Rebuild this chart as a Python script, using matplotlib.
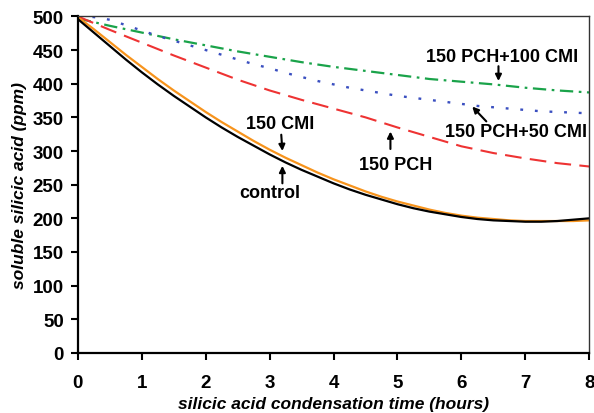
import matplotlib
matplotlib.use("Agg")
import matplotlib.pyplot as plt

plt.rcParams['font.family'] = ['Liberation Sans', 'DejaVu Sans']

# time in hours
hours = [0, 0.5, 1, 1.5, 2, 2.5, 3, 3.5, 4, 4.5, 5, 5.5, 6, 6.5, 7, 7.5, 8]
hours_fine = [0, 0.25, 0.5, 0.75, 1, 1.25, 1.5, 1.75, 2, 2.25, 2.5, 2.75, 3, 3.25, 3.5, 3.75,
              4, 4.25, 4.5, 4.75, 5, 5.25, 5.5, 5.75, 6, 6.25, 6.5, 6.75, 7, 7.25, 7.5, 7.75, 8]

control = [496, 476, 456, 436, 417, 399, 382, 366, 350, 335, 321, 308, 295, 283, 272, 262,
           252, 243, 235, 228, 221, 215, 210, 206, 202, 199, 197, 196, 195, 195, 196, 198, 200]
cmi150 = [499, 481, 462, 443, 425, 407, 390, 374, 358, 343, 329, 315, 302, 290, 279, 268,
          258, 249, 240, 232, 225, 219, 213, 208, 204, 201, 199, 197, 196, 196, 196, 196, 197]
pch_cmi50 = [500, 499, 495, 487, 479, 471, 464, 457, 450, 443, 436, 429, 423, 416, 410, 404,
             399, 394, 390, 386, 382, 379, 376, 373, 370, 367, 365, 363, 361, 359, 358, 357, 356]
pch150 = [500, 480, 461, 442, 424, 406, 390, 376, 363, 350, 335, 321, 307, 297, 289, 282, 277]
pch_cmi100 = [497, 486, 476, 466, 457, 448, 440, 432, 425, 419, 413, 407, 403, 399, 394, 390, 387]

fig = plt.figure(figsize=(5.94, 4.14), dpi=100)
ax = fig.add_axes([0.131, 0.145, 0.861, 0.813])

ax.plot(hours, pch_cmi100, color='#1aa34a', lw=1.6, dashes=(6, 2.5, 1.2, 2.5))
ax.plot(hours_fine, pch_cmi50, color='#3a4fc0', lw=1.7, dashes=(1.2, 5))
ax.plot(hours, pch150, color='#ee3333', lw=1.5, dashes=(8, 4))
ax.plot(hours_fine, cmi150, color='#f7941d', lw=1.6)
ax.plot(hours_fine, control, color='black', lw=1.6)

ax.set_xlim(0, 8)
ax.set_ylim(0, 500)
ax.set_xticks(range(0, 9))
ax.set_yticks(range(0, 501, 50))

for lbl in ax.get_xticklabels() + ax.get_yticklabels():
    lbl.set_fontweight('bold')
ax.tick_params(axis='x', direction='out', length=5, width=1.5, labelsize=13.5, pad=10)
ax.tick_params(axis='y', direction='out', length=5, width=1.5, labelsize=13.5, pad=5)

for s in ['left', 'bottom']:
    ax.spines[s].set_linewidth(1.6)
for s in ['top', 'right']:
    ax.spines[s].set_linewidth(1.0)
    ax.spines[s].set_color('#333333')

ax.set_xlabel('silicic acid condensation time (hours)', fontsize=12.5,
              fontweight='bold', style='italic', labelpad=4)
ax.set_ylabel('soluble silicic acid (ppm)', fontsize=12.5,
              fontweight='bold', style='italic', labelpad=4)

ann = dict(fontsize=13, fontweight='bold', ha='center', va='center',
           arrowprops=dict(arrowstyle='-|>', color='black', lw=1.5,
                           mutation_scale=9, shrinkA=0, shrinkB=0))
ax.annotate('150 CMI', xy=(3.2, 300), xytext=(3.17, 341), **ann)
ax.annotate('', xy=(3.2, 278), xytext=(3.2, 252), **ann)
ax.text(3.0, 238, 'control', fontsize=13, fontweight='bold', ha='center', va='center')
ax.annotate('', xy=(4.89, 329), xytext=(4.89, 303), **ann)
ax.text(4.97, 280, '150 PCH', fontsize=13, fontweight='bold', ha='center', va='center')
ax.annotate('', xy=(6.58, 404), xytext=(6.58, 426), **ann)
ax.text(6.64, 441, '150 PCH+100 CMI', fontsize=13, fontweight='bold', ha='center', va='center')
ax.annotate('', xy=(6.17, 366), xytext=(6.39, 344), **ann)
ax.text(6.86, 329, '150 PCH+50 CMI', fontsize=13, fontweight='bold', ha='center', va='center')

fig.savefig('out.png', dpi=100)
